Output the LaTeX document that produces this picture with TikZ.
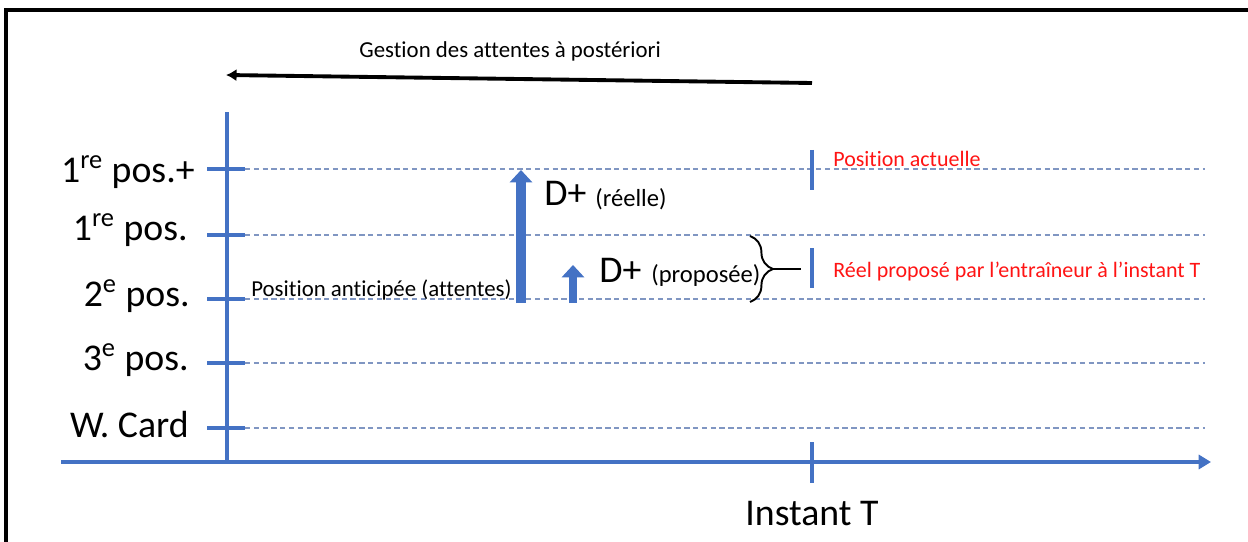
\documentclass[tikz,border=0pt]{standalone}
\usepackage{fontspec}
\setmainfont{Carlito}[Ligatures={NoCommon}]
\usepackage{tikz}
\usetikzlibrary{calc}
\usetikzlibrary{arrows.meta}
\usetikzlibrary{positioning}
\usetikzlibrary{decorations.pathreplacing}
\definecolor{officeblue}{RGB}{68, 114, 196}
\definecolor{dashblue}{RGB}{128, 150, 194}
\definecolor{markred}{RGB}{255, 20, 20}

\tikzset{
  bigtext/.style={inner sep=0pt, font=\fontsize{21.5}{26}\selectfont},
  smalltext/.style={inner sep=0pt, font=\fontsize{13}{15}\selectfont},
  paren/.style={inner sep=0pt, anchor=base west, font=\fontsize{14}{16}\selectfont},
  redtext/.style={inner sep=0pt, font=\fontsize{12.5}{15}\selectfont, text=markred, anchor=base west},
  frameline/.style={black, line width=1.8pt},
  axisline/.style={officeblue, line width=2.2pt},
  postick/.style={officeblue, line width=2.4pt},
  marker/.style={officeblue, line width=2.8pt},
  levelline/.style={dashblue, line width=1pt, dash pattern=on 3pt off 2pt},
  blockarrow/.style={officeblue, line width=5.5pt, -{Triangle[width=12.5pt,length=7pt]}},
}

\begin{document}
\begin{tikzpicture}[x=0.2mm, y=-0.2mm]
  \useasboundingbox (0,0) rectangle (1248,542);
  \draw[frameline] (6,542) -- (6,10) -- (1248,10);

  % fleche du haut
  \node[smalltext, anchor=base west] (gestion) at (359,58) {Gestion des attentes à postériori};
  \coordinate (gestR) at (812,83);
  \coordinate (gestL) at (226,75);
  \draw[black, line width=2.2pt, -{Latex[width=7pt,length=6pt]}] (gestR) -- (gestL);

  % axes
  \coordinate (origin) at (227,462);
  \coordinate (ytop)   at (227,112);
  \coordinate (xleft)  at (61,462);
  \coordinate (xright) at (1211,462);
  \draw[axisline, line width=1.8pt] (origin) -- (ytop);
  \draw[axisline, -{Triangle[width=8pt,length=7pt]}] (xleft) -- (xright);

  % niveaux
  \foreach \y/\lx/\ly/\txt [count=\i] in {
      169/195/182/{1\textsuperscript{re} pos.+},
      235/188/240/{1\textsuperscript{re} pos.},
      299/190/306/{2\textsuperscript{e} pos.},
      363/189/370/{3\textsuperscript{e} pos.},
      428/189/437/{W. Card}} {
    \coordinate (tickL\i) at (207,\y);
    \coordinate (tickR\i) at (245,\y);
    \coordinate (lineR\i) at (1205,\y);
    \draw[levelline] (tickR\i) -- (lineR\i);
    \draw[postick] (tickL\i) -- (tickR\i);
    \node[bigtext, anchor=base east] (lab\i) at (\lx,\ly) {\txt};
  }

  % instant T
  \coordinate (instT) at (812,442);
  \coordinate (instB) at (812,483);
  \draw[axisline, line width=1.8pt] (instT) -- (instB);
  \node[bigtext, anchor=base] (instant) at (812,525) {Instant T};

  % ecarts
  \node[smalltext, anchor=base west] (anticipee) at (251,297) {Position anticipée (attentes)};
  \coordinate (reelB) at (521,303);
  \coordinate (reelT) at (521,170);
  \draw[blockarrow] (reelB) -- (reelT);
  \node[bigtext, anchor=base west] (dreel) at (544,206) {D+};
  \node[paren] (reelle) at (595,207) {(réelle)};

  \coordinate (propB) at (573,303);
  \coordinate (propT) at (573,265);
  \draw[blockarrow, line width=5pt] (propB) -- (propT);
  \node[bigtext, anchor=base west] (dprop) at (599,282) {D+};
  \node[paren] (proposee) at (651,283) {(proposée)};

  % accolade
  \coordinate (braceT) at (750,236);
  \coordinate (braceB) at (750,302);
  \draw[black, line width=1.1pt, decorate, decoration={brace, amplitude=13pt}] (braceT) -- (braceB);
  \coordinate (braceTip) at (773,269);
  \coordinate (braceEnd) at (801,269);
  \draw[black, line width=1.1pt] (braceTip) -- (braceEnd);

  % position a l'instant T
  \coordinate (actT) at (812,150);
  \coordinate (actB) at (812,190);
  \draw[marker] (actT) -- (actB);
  \node[redtext] (actuelle) at (833,167) {Position actuelle};
  \coordinate (propMT) at (812,248);
  \coordinate (propMB) at (812,288);
  \draw[marker] (propMT) -- (propMB);
  \node[redtext] (entraineur) at (833,277) {Réel proposé par l’entraîneur à l’instant T};
\end{tikzpicture}
\end{document}
